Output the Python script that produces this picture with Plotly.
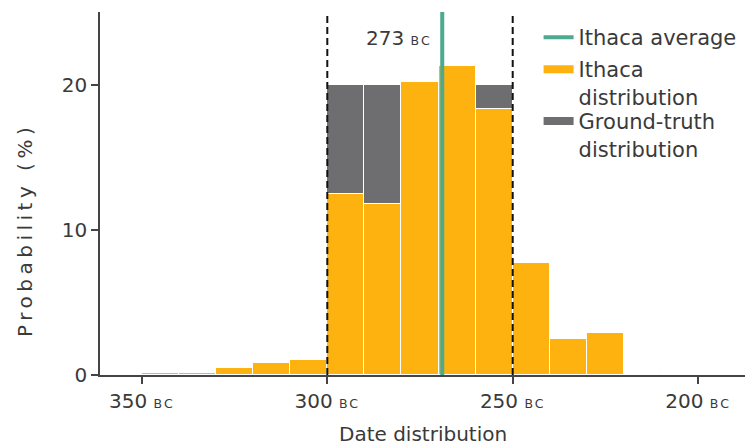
import plotly.graph_objects as go

# ---- data ----
bin_centers = [345, 335, 325, 315, 305, 295, 285, 275, 265, 255, 245, 235, 225, 215, 205]
ithaca_pct = [0.15, 0.15, 0.5, 0.8, 1.0, 12.5, 11.8, 20.2, 21.3, 18.3, 7.7, 2.5, 2.9, 0.1, 0.1]
truth_centers = [295, 285, 275, 265, 255]
truth_pct = [20, 20, 20, 20, 20]
truth_bounds = [300, 250]
ithaca_avg_pos = 269
avg_label = "273"
x_tick_vals = [350, 300, 250, 200]
y_tick_vals = [0, 10, 20]

YELLOW = "#FDB20F"
GREY = "#6E6E70"
TEAL = "#4DA98F"
TXT = "#3a3a3a"
FONT = "DejaVu Sans"
BIN_W = 10
Y_MAX = 25

def bc(v, small=12.5):
    return f"{v} <span style='font-size:{small}px;letter-spacing:2px'>BC</span>"

fig = go.Figure()

# ground truth (behind)
fig.add_trace(go.Bar(x=truth_centers, y=truth_pct, width=[BIN_W]*len(truth_centers),
                     marker=dict(color=GREY, line=dict(color="white", width=1)),
                     showlegend=False, hoverinfo="skip"))
# ithaca distribution
fig.add_trace(go.Bar(x=bin_centers, y=ithaca_pct, width=[BIN_W]*len(bin_centers),
                     marker=dict(color=YELLOW, line=dict(color="white", width=1)),
                     showlegend=False, hoverinfo="skip"))
# dashed boundaries
for b in truth_bounds:
    fig.add_trace(go.Scatter(x=[b, b], y=[0, Y_MAX], mode="lines",
                             line=dict(color="#111111", width=2, dash="7px,4px"),
                             showlegend=False, hoverinfo="skip"))
# average line
fig.add_trace(go.Scatter(x=[ithaca_avg_pos, ithaca_avg_pos], y=[0, Y_MAX], mode="lines",
                         line=dict(color=TEAL, width=4), name="Ithaca average",
                         legend="legend"))
# legend proxies
fig.add_trace(go.Scatter(x=[None], y=[None], mode="lines", line=dict(color=YELLOW, width=8),
                         name="Ithaca<br>distribution", legend="legend2"))
fig.add_trace(go.Scatter(x=[None], y=[None], mode="lines", line=dict(color=GREY, width=8),
                         name="Ground-truth<br>distribution", legend="legend3"))

fig.add_annotation(x=ithaca_avg_pos, y=23.2, xref="x", yref="y", text=bc(avg_label),
                   showarrow=False, xanchor="right", yanchor="middle", xshift=-8,
                   font=dict(size=20, color=TXT, family=FONT))

fig.add_annotation(x=-0.116, y=10, xref="paper", yref="y", textangle=-90,
                   text="<span style='letter-spacing:4.5px'>Probability (%)</span>",
                   showarrow=False, xanchor="center", yanchor="middle",
                   font=dict(size=20, color=TXT, family=FONT))
fig.add_annotation(x=0.5, y=0, xref="paper", yref="paper", yshift=-59,
                   text="Date distribution", showarrow=False,
                   xanchor="center", yanchor="middle",
                   font=dict(size=20, color=TXT, family=FONT))

leg_common = dict(x=0.68, xanchor="left", yanchor="top",
                  font=dict(size=21, color=TXT, family=FONT),
                  bgcolor="rgba(0,0,0,0)", valign="top", itemwidth=30)

fig.update_layout(
    width=749, height=446,
    margin=dict(l=100, r=4, t=12, b=71),
    plot_bgcolor="white", paper_bgcolor="white",
    barmode="overlay", bargap=0,
    font=dict(family=FONT, size=20, color=TXT),
    showlegend=True,
    legend=dict(y=0.986, **leg_common),
    legend2=dict(y=0.898, **leg_common),
    legend3=dict(y=0.755, **leg_common),
    xaxis=dict(range=[361.3, 187.35], tickvals=x_tick_vals,
               ticktext=[bc(v) for v in x_tick_vals],
               showgrid=False, zeroline=False, showline=True,
               linecolor="#444444", linewidth=1.5,
               ticks="outside", ticklen=7, tickwidth=1.5, tickcolor="#444444",
               tickfont=dict(size=20, color=TXT, family=FONT)),
    yaxis=dict(range=[0, Y_MAX], tickvals=y_tick_vals,
               showgrid=False, zeroline=False, showline=True,
               linecolor="#444444", linewidth=1.5,
               ticks="outside", ticklen=7, tickwidth=1.5, tickcolor="#444444",
               tickfont=dict(size=20, color=TXT, family=FONT)),
)

fig.write_html("out.html", config={"displayModeBar": False},
               post_script="document.body.style.margin='0';document.body.style.overflow='hidden';")
